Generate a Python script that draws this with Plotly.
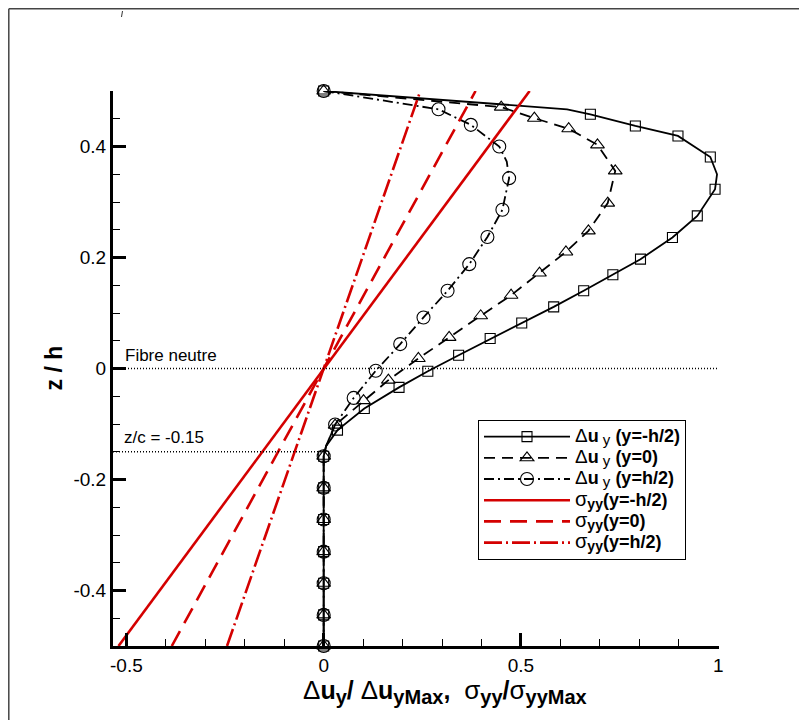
import plotly.graph_objects as go

# ---------------- data ----------------
# shared vertical part of the three displacement profiles (x = 0)
seg_x = [0.0, 0.0, 0.0, 0.0, 0.0, 0.0, 0.0]
seg_z = [-0.158, -0.215, -0.272, -0.330, -0.387, -0.444, -0.500]

# Delta u_y (y = -h/2)  -- squares
sq_x = [0.0, 0.617, 0.676, 0.790, 0.898, 0.980, 0.997, 0.992, 0.947, 0.884, 0.803,
        0.733, 0.659, 0.583, 0.502, 0.422, 0.342, 0.264, 0.191, 0.103, 0.035, 0.006]
sq_z = [0.500, 0.467, 0.458, 0.437, 0.419, 0.381, 0.350, 0.323, 0.275, 0.236, 0.197,
        0.169, 0.140, 0.111, 0.082, 0.054, 0.024, -0.005, -0.034, -0.072, -0.111, -0.140]
sq_nomark = [1, 6, 21]

# Delta u_y (y = 0)  -- triangles
tri_x = [0.0, 0.450, 0.534, 0.621, 0.694, 0.739, 0.720, 0.671, 0.614, 0.547, 0.475,
         0.398, 0.318, 0.240, 0.164, 0.101, 0.029, 0.006]
tri_z = [0.500, 0.471, 0.451, 0.432, 0.403, 0.356, 0.298, 0.248, 0.210, 0.172, 0.132,
         0.095, 0.056, 0.018, -0.021, -0.058, -0.102, -0.140]
tri_nomark = [17]

# Delta u_y (y = h/2)  -- circles
circ_x = [0.0, 0.291, 0.373, 0.445, 0.464, 0.470, 0.453, 0.415, 0.369, 0.314, 0.253,
          0.194, 0.132, 0.076, 0.029, 0.006]
circ_z = [0.500, 0.467, 0.439, 0.400, 0.373, 0.343, 0.286, 0.237, 0.188, 0.140, 0.092,
          0.044, -0.004, -0.053, -0.101, -0.140]
circ_nomark = [4, 15]

# sigma_yy straight profiles
sig_z = [-0.5, 0.5]
sig_neg = [-0.520, 0.522]      # y = -h/2
sig_mid = [-0.385, 0.385]      # y = 0
sig_pos = [-0.245, 0.245]      # y = h/2

fibre_z = 0.0
zc_z = -0.15

x_tickvals = [-0.5, 0, 0.5, 1]
x_ticktext = ["-0.5", "0", "0.5", "1"]
x_minor = [-0.4, -0.3, -0.2, -0.1, 0.1, 0.2, 0.3, 0.4, 0.6, 0.7, 0.8, 0.9]
y_tickvals = [-0.4, -0.2, 0, 0.2, 0.4]
y_ticktext = ["-0.4", "-0.2", "0", "0.2", "0.4"]
y_minor = [-0.45, -0.35, -0.3, -0.25, -0.15, -0.1, -0.05,
           0.05, 0.1, 0.15, 0.25, 0.3, 0.35, 0.45]

du_lbl = ("<span style='font-size:19px'>Δ</span><span style='font-size:18px'><b>u</b></span>"
          "<sub><span style='font-size:15px'> y</span></sub>")
sg_lbl = ("<span style='font-size:20px'>σ</span>"
          "<sub><span style='font-size:14px'><b>yy</b></span></sub>")
names = [
    du_lbl + "<span style='font-size:18px'><b> (y=-h/2)</b></span>",
    du_lbl + "<span style='font-size:18px'><b> (y=0)</b></span>",
    du_lbl + "<span style='font-size:18px'><b> (y=h/2)</b></span>",
    sg_lbl + "<span style='font-size:18px'><b>(y=-h/2)</b></span>",
    sg_lbl + "<span style='font-size:18px'><b>(y=0)</b></span>",
    sg_lbl + "<span style='font-size:18px'><b>(y=h/2)</b></span>",
]

# ---------------- layout geometry ----------------
# the page body adds an 8px offset; all screen positions below are screen pixels
OFF = 8
W, H = 807 - OFF, 720 - OFF
ML, MR, MT, MB = 113 - OFF, 88, 91 - OFF, 74
PW, PH = W - ML - MR, H - MT - MB
FONT = "Liberation Sans, Arial, sans-serif"
RED = "#d40000"


def px2paper(px, py):
    return (px - OFF - ML) / PW, (H - MB - (py - OFF)) / PH


fig = go.Figure()

black_series = [
    (sq_x, sq_z, sq_nomark, "solid", "square-open", 10),
    (tri_x, tri_z, tri_nomark, "11px,7px", "triangle-up-open", 12),
    (circ_x, circ_z, circ_nomark, "10px,4px,2px,4px", "circle-open", 13),
]

for i, (xs, zs, nomark, dash, sym, size) in enumerate(black_series):
    fx = list(xs) + seg_x
    fz = list(zs) + seg_z
    fig.add_trace(go.Scatter(x=fx, y=fz, mode="lines", showlegend=False,
                             line=dict(color="black", width=1.8, dash=dash),
                             cliponaxis=False, hoverinfo="skip"))
    mx = [v for k, v in enumerate(fx) if k not in nomark]
    mz = [v for k, v in enumerate(fz) if k not in nomark]
    fig.add_trace(go.Scatter(x=mx, y=mz, mode="markers", showlegend=False,
                             marker=dict(symbol=sym, size=size, color="black",
                                         line=dict(width=1.1, color="black")),
                             cliponaxis=False, hoverinfo="skip"))

red_series = [
    (sig_neg, "solid"),
    (sig_mid, "17px,9px"),
    (sig_pos, "18px,4px,2px,4px"),
]
for xs, dash in red_series:
    fig.add_trace(go.Scatter(x=xs, y=sig_z, mode="lines", showlegend=False,
                             line=dict(color=RED, width=2.6, dash=dash),
                             cliponaxis=False, hoverinfo="skip"))

# legend entries
for (xs, zs, nomark, dash, sym, size), name in zip(black_series, names[:3]):
    fig.add_trace(go.Scatter(x=[None], y=[None], mode="lines+markers", name=name,
                             line=dict(color="black", width=1.8, dash=dash),
                             marker=dict(symbol=sym, size=size, color="black",
                                         line=dict(width=1.1, color="black"))))
for (xs, dash), name in zip(red_series, names[3:]):
    fig.add_trace(go.Scatter(x=[None], y=[None], mode="lines", name=name,
                             line=dict(color=RED, width=2.6, dash=dash)))

# reference lines
fig.add_shape(type="line", xref="paper", yref="y", x0=0, x1=1, y0=fibre_z, y1=fibre_z,
              line=dict(color="black", width=1.5, dash="1px,2px"))
fig.add_shape(type="line", xref="x", yref="y", x0=-0.534, x1=0, y0=zc_z, y1=zc_z,
              line=dict(color="black", width=1.5, dash="1px,2px"))

# outer frame (top and left) and stray mark
fx0, fy0 = px2paper(8.8, 8.8)
fx1, _ = px2paper(812, 8.8)
_, fy1 = px2paper(8.8, 725)
fig.add_shape(type="line", xref="paper", yref="paper", x0=fx0, x1=fx1, y0=fy0, y1=fy0,
              line=dict(color="#444", width=1.5))
fig.add_shape(type="line", xref="paper", yref="paper", x0=fx0, x1=fx0, y0=fy0, y1=fy1,
              line=dict(color="#444", width=1.5))
sx0, sy0 = px2paper(122.5, 11)
sx1, sy1 = px2paper(121.5, 17)
fig.add_shape(type="line", xref="paper", yref="paper", x0=sx0, x1=sx1, y0=sy0, y1=sy1,
              line=dict(color="#333", width=1))

# text annotations
fig.add_annotation(x=-0.508, y=0.023, xref="x", yref="y", text="Fibre neutre",
                   showarrow=False, xanchor="left", yanchor="middle",
                   font=dict(family=FONT, size=17, color="black"))
fig.add_annotation(x=-0.511, y=-0.125, xref="x", yref="y", text="z/c = -0.15",
                   showarrow=False, xanchor="left", yanchor="middle",
                   font=dict(family=FONT, size=17, color="black"))

tx, ty = px2paper(53, 368.5)
fig.add_annotation(x=tx, y=ty, xref="paper", yref="paper", text="<b>z / h</b>",
                   showarrow=False, textangle=-90, xanchor="center", yanchor="middle",
                   font=dict(family=FONT, size=23, color="black"))

S = "<sub><span style='font-size:20px'><b>{}</b></span></sub>"
xtitle = ("<span style='font-size:26px'>Δ</span><b>u</b>" + S.format("y") + "<b>/ </b>"
          "<span style='font-size:26px'>Δ</span><b>u</b>" + S.format("yMax") + "<b>,  </b>"
          "<span style='font-size:26px'>σ</span>" + S.format("yy") + "<b>/</b>"
          "<span style='font-size:26px'>σ</span>" + S.format("yyMax"))
ax, ay = px2paper(445, 691)
fig.add_annotation(x=ax, y=ay, xref="paper", yref="paper", text=xtitle,
                   showarrow=False, xanchor="center", yanchor="middle",
                   font=dict(family=FONT, size=25, color="black"))

lx, ly = px2paper(478, 420)
fig.update_layout(
    width=W, height=H,
    margin=dict(l=ML, r=MR, t=MT, b=MB, pad=0),
    paper_bgcolor="white", plot_bgcolor="white",
    font=dict(family=FONT, color="black"),
    legend=dict(x=lx, y=ly, xanchor="left", yanchor="top", bgcolor="white",
                bordercolor="black", borderwidth=1, itemwidth=86,
                font=dict(family=FONT, size=14, color="black"), tracegroupgap=0),
    xaxis=dict(range=[-0.534, 1.002], showgrid=False, zeroline=False,
               showline=True, linecolor="black", linewidth=3,
               ticks="inside", ticklen=13, tickwidth=3, tickcolor="black",
               tickmode="array", tickvals=x_tickvals, ticktext=x_ticktext,
               tickfont=dict(family=FONT, size=19, color="black"),
               minor=dict(tickmode="array", tickvals=x_minor, ticks="inside",
                          ticklen=7, tickwidth=1, tickcolor="black")),
    yaxis=dict(range=[-0.5, 0.5], showgrid=False, zeroline=False,
               showline=True, linecolor="black", linewidth=3,
               ticks="inside", ticklen=13, tickwidth=3, tickcolor="black",
               tickmode="array", tickvals=y_tickvals, ticktext=y_ticktext,
               tickfont=dict(family=FONT, size=19, color="black"),
               minor=dict(tickmode="array", tickvals=y_minor, ticks="inside",
                          ticklen=7, tickwidth=1, tickcolor="black")),
)

fig.write_html("out.html")
